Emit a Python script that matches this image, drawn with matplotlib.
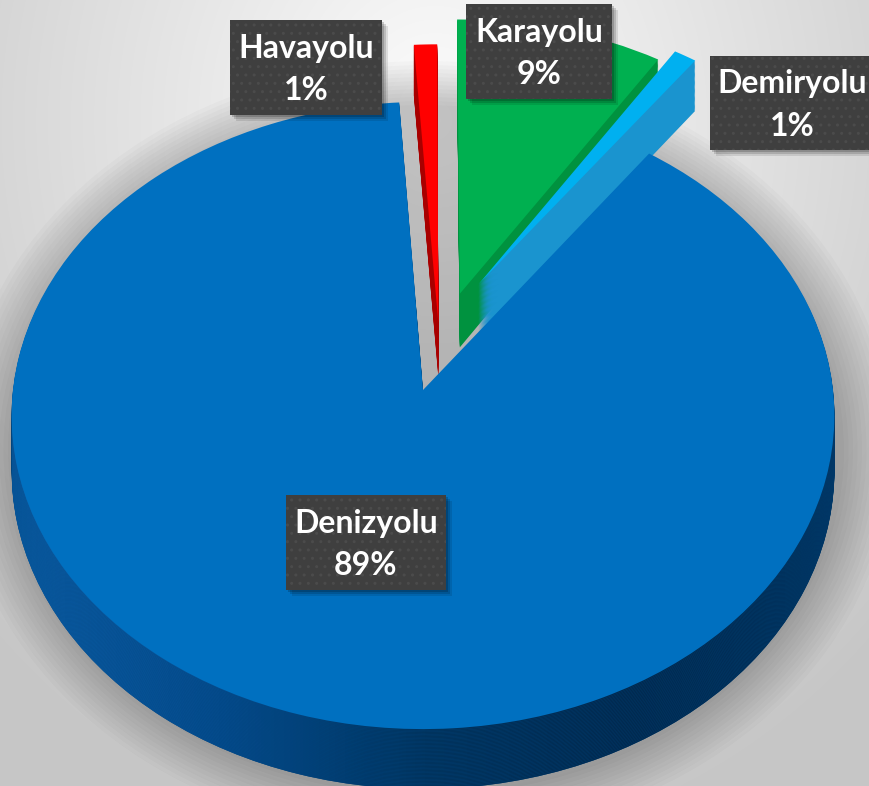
import numpy as np
import matplotlib
matplotlib.use('Agg')
import matplotlib.pyplot as plt
from matplotlib.patches import Ellipse, Rectangle
from matplotlib.colors import LinearSegmentedColormap
from matplotlib.transforms import Transform, Affine2D

# ---- data (clockwise from 12 o'clock) ----
categories = ['Karayolu', 'Demiryolu', 'Denizyolu', 'Havayolu']
shares = [9, 1, 89, 1]
pct_labels = ['9%', '1%', '89%', '1%']
top_colors = ['#00b050', '#00b0f0', '#0070c0', '#ff0000']
side_colors = ['#00923f', '#1a94cf', '#00457e', '#a80000']
explode = [0.33, 0.30, 0.0, 0.22]
# extra shift of exploded slices to mimic the 3-D view (style only)
nudge = [(0.0, 0.0), (-0.03, 0.10), (0.0, 0.0), (0.045, 0.0)]

W, H = 870, 786
plt.rcParams['hatch.linewidth'] = 1.0
fig = plt.figure(figsize=(W / 100, H / 100), dpi=100)

# ---- background ----
ax = fig.add_axes([0, 0, 1, 1])
ax.axis('off')
yy, xx = np.mgrid[0:H, 0:W]
r = np.sqrt(((xx - 435) / 650.0) ** 2 + ((yy - 120) / 760.0) ** 2)
g = np.clip(0.99 - 0.22 * r, 0.78, 1.0)
ax.imshow(np.dstack([g, g, g]), extent=[0, W, H, 0], aspect='auto', zorder=0)
for i in range(12):
    ax.add_patch(Ellipse((426, 450), 836 + i * 9, 690 + i * 8, color='black',
                         alpha=0.018, lw=0, zorder=1))

# ---- perspective projection of the pie plane ----
CX, CY, A, B, P = 423, 390, 410, 311.5, 0.0814


class Persp(Transform):
    input_dims = output_dims = 2
    is_separable = False
    has_inverse = False

    def __init__(self, drop=0.0):
        super().__init__()
        self.drop = drop

    def transform_non_affine(self, values):
        v = np.asarray(values, dtype=float)
        X, Y = v[:, 0], v[:, 1]
        w = 1.0 + P * Y
        return np.column_stack([CX + A * X / w, CY - (B * Y - self.drop) / w])


side_cmap = LinearSegmentedColormap.from_list(
    'side', ['#0d5fa8', '#054b8c', '#00345f', '#002a50', '#00325c'])
grad = np.linspace(0, 1, 256).reshape(1, -1)

thick = 55.0
n = 44
big = categories.index('Denizyolu')


def place(wedges, drop, z):
    for w, (nx, ny) in zip(wedges, nudge):
        w.set_transform(Affine2D().translate(nx, ny) + Persp(drop) + ax.transData)
        w.set_zorder(z)


for k in range(n, 0, -1):
    drop = thick * k / n
    z = 2 + (n - k) * 0.01
    wedges, _ = ax.pie(shares, explode=explode, colors=side_colors, startangle=90,
                       counterclock=False,
                       wedgeprops=dict(linewidth=0, antialiased=True))
    place(wedges, drop, z)
    im = ax.imshow(grad, cmap=side_cmap, extent=[12, 838, 790, 300],
                   aspect='auto', zorder=z + 0.001, interpolation='bilinear')
    im.set_clip_path(wedges[big])

tops, _ = ax.pie(shares, explode=explode, colors=top_colors, startangle=90,
                 counterclock=False,
                 wedgeprops=dict(linewidth=0, antialiased=True))
place(tops, 0.0, 3)

ax.set_aspect('auto')
ax.set_xlim(0, W)
ax.set_ylim(H, 0)

# ---- labels: dark box, name line, percentage line ----
label_box = {'Havayolu': (230, 20, 152, 95), 'Karayolu': (466, 4, 146, 95),
             'Demiryolu': (710, 56, 170, 94), 'Denizyolu': (286, 495, 160, 95)}
label_cx = {'Havayolu': 306, 'Karayolu': 539, 'Demiryolu': 792, 'Denizyolu': 366}
for cat, pct in zip(categories, pct_labels):
    bx, by, bw, bh = label_box[cat]
    for s, al in ((6, 0.10), (4, 0.14), (2, 0.18)):
        ax.add_patch(Rectangle((bx + s, by + s), bw, bh, facecolor='black',
                               alpha=al, linewidth=0, zorder=8.5))
    ax.add_patch(Rectangle((bx, by), bw, bh, facecolor='#3f3f3f', edgecolor='#4b4b4b',
                           hatch='..', linewidth=0, zorder=9))
    xc = label_cx[cat]
    yc = by + bh / 2
    kw = dict(ha='center', va='baseline', color='white', fontsize=23,
              fontweight='bold', family='Lato', zorder=10)
    ax.text(xc, yc - 9.5, cat, **kw)
    ax.text(xc, yc + 32.5, pct, **kw)

fig.savefig('out.png', dpi=100)
